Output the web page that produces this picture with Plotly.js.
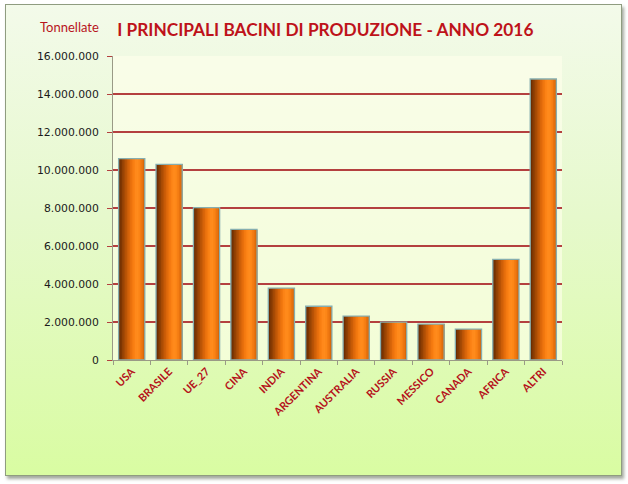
<!DOCTYPE html>
<html>
<head>
<meta charset="utf-8">
<script src="https://cdn.plot.ly/plotly-3.0.1.min.js"></script>
<style>
  html, body { margin: 0; padding: 0; background: #ffffff; }
  #wrap { position: relative; width: 628px; height: 484px; overflow: hidden; }
  #frame {
    position: absolute; left: 5px; top: 4px; width: 615px; height: 470px;
    border: 1px solid #8f9c80;
    background: linear-gradient(to bottom, #f3faea 0%, #e6f9cc 45%, #d9fca2 100%);
    box-shadow: 2px 3px 3px rgba(90,100,80,0.55);
  }
  #chart { position: absolute; left: 0; top: 0; width: 628px; height: 484px; }
</style>
</head>
<body>
<div id="wrap">
  <div id="frame"></div>
  <div id="chart"></div>
</div>
<script>
const categories = ["USA", "BRASILE", "UE_27", "CINA", "INDIA", "ARGENTINA", "AUSTRALIA", "RUSSIA", "MESSICO", "CANADA", "AFRICA", "ALTRI"];
const tonnellate = [10600000, 10300000, 8020000, 6870000, 3780000, 2830000, 2310000, 1990000, 1890000, 1630000, 5300000, 14790000];
const yTicks = [0, 2000000, 4000000, 6000000, 8000000, 10000000, 12000000, 14000000, 16000000];

// Cylinder-like shading: layered strips, dark on the left, bright orange toward the right
const stripColors = ["#6a2c02", "#7d3603", "#914004", "#a54a05", "#b85306", "#ca5d08", "#da660a", "#e8700d", "#f37910", "#fb8215", "#ff891b", "#ff8b1c", "#fc8617", "#f47d13", "#e8720e", "#d6670a"];
const barWidth = 0.7;
const traces = [];
const n = stripColors.length;
for (let i = 0; i < n; i++) {
  const w = barWidth / n;
  traces.push({
    type: "bar", x: categories, y: tonnellate,
    width: barWidth - i * w, offset: -barWidth / 2 + i * w,
    marker: { color: stripColors[i], line: { width: 0 } },
    hoverinfo: i === 0 ? "x+y" : "skip", showlegend: false
  });
}
traces.push({
  type: "bar", x: categories, y: tonnellate, width: barWidth, offset: -barWidth / 2,
  marker: { color: "rgba(0,0,0,0)", line: { color: "#86aeb0", width: 1.3 } },
  hoverinfo: "skip", showlegend: false
});

const layout = {
  width: 628, height: 484,
  margin: { l: 113, r: 66, t: 56, b: 124 },
  paper_bgcolor: "rgba(0,0,0,0)",
  plot_bgcolor: "rgba(255,255,236,0.62)",
  barmode: "overlay",
  separators: ",.",
  title: {
    text: "I PRINCIPALI BACINI DI PRODUZIONE - ANNO 2016",
    font: { family: "Lato, 'Open Sans', sans-serif", size: 17.3, color: "#be121a", weight: "bold" },
    x: 0.518, xanchor: "center", y: 0.938, yanchor: "middle"
  },
  xaxis: {
    type: "category",
    tickangle: -45,
    tickfont: { family: "Lato, 'Open Sans', sans-serif", size: 10.8, color: "#b5111a", weight: "bold" },
    showline: true, linecolor: "#9a9a86", linewidth: 1,
    ticks: "outside", tickson: "boundaries", ticklen: 4, tickcolor: "#9a9a86",
    showgrid: false, fixedrange: true
  },
  yaxis: {
    range: [0, 16000000],
    tickvals: yTicks,
    tickformat: ",d",
    tickfont: { family: "'DejaVu Sans', Verdana, sans-serif", size: 10.8, color: "#1a1a1a" },
    ticklabelstandoff: 6,
    showline: true, linecolor: "#9a9a86", linewidth: 1,
    ticks: "outside", ticklen: 5, tickcolor: "#b4403f",
    showgrid: true, gridcolor: "#b4403f", gridwidth: 2.5,
    zeroline: false, fixedrange: true
  },
  annotations: [{
    text: "Tonnellate", xref: "paper", yref: "paper", x: -0.168, y: 1.096,
    xanchor: "left", yanchor: "middle", showarrow: false,
    font: { family: "Lato, 'Open Sans', sans-serif", size: 13, color: "#b8141c" }
  }],
  bargap: 0.3
};

Plotly.newPlot("chart", traces, layout, { displayModeBar: false, staticPlot: true });
</script>
</body>
</html>
